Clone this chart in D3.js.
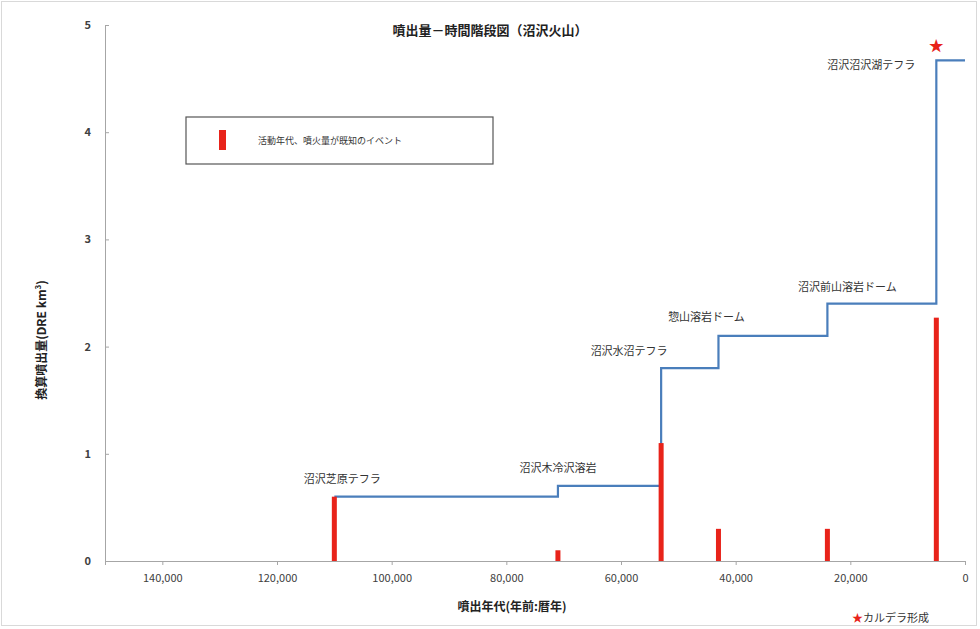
<!DOCTYPE html>
<html>
<head>
<meta charset="utf-8">
<script src="https://cdn.jsdelivr.net/npm/d3@7"></script>
<style>
  body { margin: 0; background: #fff; }
  svg text { font-family: "Noto Sans CJK JP", "Noto Sans", sans-serif; }
</style>
</head>
<body>
<div id="chart"></div>
<script>
// events: age (years before present), erupted volume (DRE km3), name
const eventAges = [110000, 71000, 53000, 43000, 24000, 5000];
const eventVolumes = [0.6, 0.1, 1.1, 0.3, 0.3, 2.27];
const eventNames = [
  "沼沢芝原テフラ",
  "沼沢木冷沢溶岩",
  "沼沢水沼テフラ",
  "惣山溶岩ドーム",
  "沼沢前山溶岩ドーム",
  "沼沢沼沢湖テフラ",
];
const xTicks = [140000, 120000, 100000, 80000, 60000, 40000, 20000, 0];
const yTicks = [0, 1, 2, 3, 4, 5];

const margin = { top: 25, right: 15, bottom: 68, left: 105 },
  width = 980 - margin.left - margin.right,
  height = 629 - margin.top - margin.bottom;

const svg = d3
  .select("#chart")
  .append("svg")
  .attr("width", 980)
  .attr("height", 629);

// faint outer frame
svg
  .append("rect")
  .attr("x", 1.5)
  .attr("y", 1.5)
  .attr("width", 975)
  .attr("height", 624)
  .attr("fill", "none")
  .attr("stroke", "#d9d9d9");

const g = svg
  .append("g")
  .attr("transform", "translate(" + margin.left + "," + margin.top + ")");

const x = d3.scaleLinear().domain([150000, 0]).range([0, width]);
const y = d3.scaleLinear().domain([0, 5]).range([height, 0]);

// axes
const xAxis = g
  .append("g")
  .attr("transform", "translate(0," + height + ")")
  .call(
    d3
      .axisBottom(x)
      .tickValues(xTicks)
      .tickSize(4)
      .tickPadding(9)
      .tickFormat(d3.format(","))
  );
xAxis.select(".domain").attr("stroke", "#a6a6a6");
xAxis.selectAll(".tick line").attr("stroke", "#a6a6a6");
xAxis
  .selectAll(".tick text")
  .attr("font-size", 11)
  .attr("fill", "#404040");

const yAxis = g
  .append("g")
  .call(
    d3
      .axisLeft(y)
      .tickValues(yTicks)
      .tickSize(-4)
      .tickPadding(14)
      .tickFormat(d3.format("d"))
  );
yAxis.select(".domain").attr("stroke", "#a6a6a6");
yAxis.selectAll(".tick line").attr("stroke", "#a6a6a6");
yAxis
  .selectAll(".tick text")
  .attr("font-size", 11)
  .attr("font-weight", "bold")
  .attr("fill", "#404040");

// cumulative step line
const cumulative = d3.cumsum(eventVolumes);
const stepPoints = eventAges.map((a, i) => [a, cumulative[i]]);
stepPoints.push([0, cumulative[cumulative.length - 1]]);

g.append("path")
  .datum(stepPoints)
  .attr("fill", "none")
  .attr("stroke", "#4a7ebb")
  .attr("stroke-width", 2.2)
  .attr(
    "d",
    d3
      .line()
      .curve(d3.curveStepAfter)
      .x((d) => x(d[0]))
      .y((d) => y(d[1]))
  );

// bars
g.selectAll(".bar")
  .data(eventAges)
  .enter()
  .append("rect")
  .attr("class", "bar")
  .attr("x", (d) => x(d) - 2.5)
  .attr("y", (d, i) => y(eventVolumes[i]))
  .attr("width", 5)
  .attr("height", (d, i) => height - y(eventVolumes[i]))
  .attr("fill", "#e8231a");

// event labels
const labelOffsets = [
  [8, -14],
  [0, -14],
  [-32, -13],
  [-12, -15],
  [20, -13],
  [-65, 9],
];
g.selectAll(".evlabel")
  .data(eventNames)
  .enter()
  .append("text")
  .attr("class", "evlabel")
  .attr("x", (d, i) => x(eventAges[i]) + labelOffsets[i][0])
  .attr("y", (d, i) => y(cumulative[i]) + labelOffsets[i][1])
  .attr("text-anchor", "middle")
  .attr("font-size", 11)
  .attr("fill", "#333")
  .text((d) => d);

// caldera star
g.append("text")
  .attr("x", x(eventAges[5]))
  .attr("y", y(cumulative[5]) - 9)
  .attr("text-anchor", "middle")
  .attr("font-size", 15)
  .attr("fill", "#e8231a")
  .text("★");

// title
svg
  .append("text")
  .attr("x", 490)
  .attr("y", 35)
  .attr("text-anchor", "middle")
  .attr("font-size", 13)
  .attr("font-weight", "bold")
  .attr("fill", "#222")
  .text("噴出量－時間階段図（沼沢火山）");

// legend
svg
  .append("rect")
  .attr("x", 186)
  .attr("y", 117)
  .attr("width", 307)
  .attr("height", 47)
  .attr("fill", "#fff")
  .attr("stroke", "#555")
  .attr("stroke-width", 1.2);
svg
  .append("rect")
  .attr("x", 219)
  .attr("y", 130)
  .attr("width", 7)
  .attr("height", 20)
  .attr("fill", "#e8231a");
svg
  .append("text")
  .attr("x", 258)
  .attr("y", 144)
  .attr("font-size", 9)
  .attr("fill", "#333")
  .text("活動年代、噴火量が既知のイベント");

// axis titles
svg
  .append("text")
  .attr("x", 512)
  .attr("y", 611)
  .attr("text-anchor", "middle")
  .attr("font-size", 12)
  .attr("font-weight", "bold")
  .attr("fill", "#222")
  .text("噴出年代(年前:暦年)");

const yTitle = svg
  .append("text")
  .attr("transform", "translate(46,340) rotate(-90)")
  .attr("text-anchor", "middle")
  .attr("font-size", 12)
  .attr("font-weight", "bold")
  .attr("fill", "#222");
yTitle.append("tspan").text("換算噴出量(DRE km");
yTitle
  .append("tspan")
  .attr("font-size", 8)
  .attr("dy", -5)
  .text("3");
yTitle.append("tspan").attr("dy", 5).text(")");

// caldera note
const note = svg
  .append("text")
  .attr("x", 852)
  .attr("y", 622)
  .attr("font-size", 11)
  .attr("fill", "#333");
note.append("tspan").attr("fill", "#e8231a").text("★");
note.append("tspan").text("カルデラ形成");
</script>
</body>
</html>
